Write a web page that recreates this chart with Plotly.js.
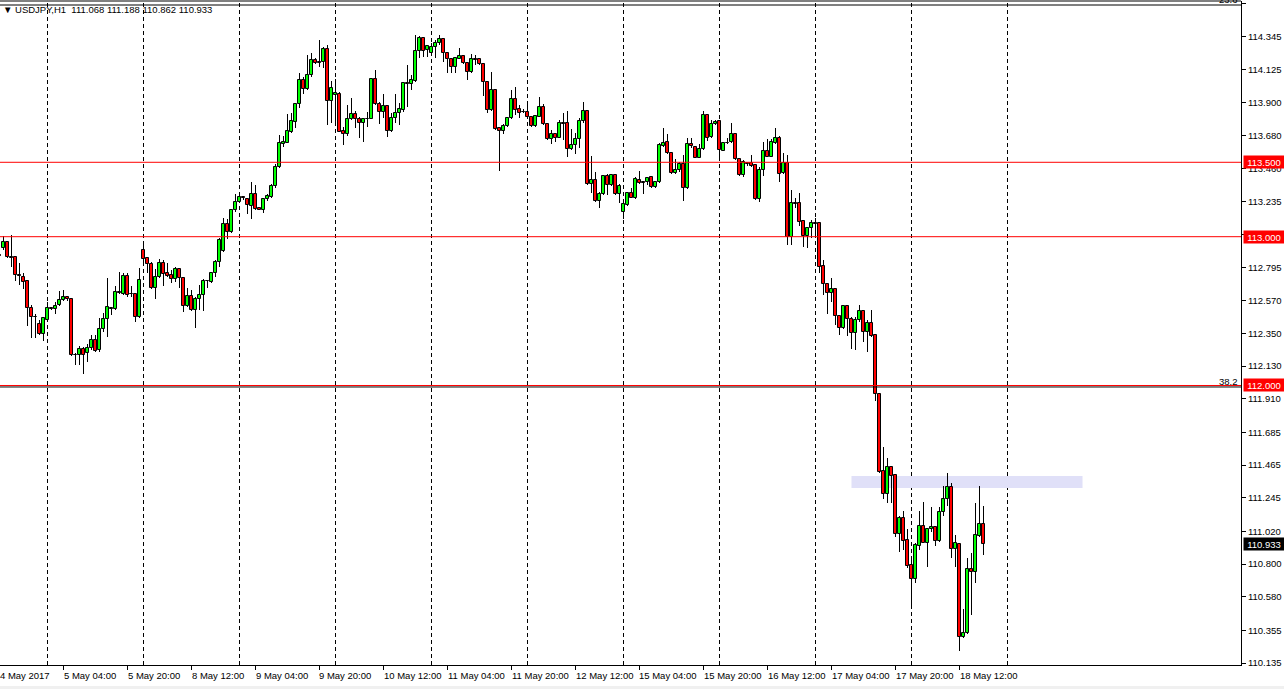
<!DOCTYPE html>
<html><head><meta charset="utf-8">
<script src="https://cdn.plot.ly/plotly-3.0.1.min.js"></script>
<style>html,body{margin:0;padding:0;background:#fff;overflow:hidden}#chart{width:1284px;height:689px}</style>
</head><body><div id="chart"></div>
<script>
const symbol = 'USDJPY,H1';
// hourly bars, first = 4 May 2017 12:00 (partly hidden), last = 18 May 18:00
const open = [112.880,
112.922,112.962,112.861,112.861,112.740,112.731,112.704,112.518,112.462,112.411,
112.344,112.440,112.518,112.512,112.541,112.572,112.592,112.579,112.205,112.205,
112.245,112.216,112.250,112.306,112.238,112.379,112.444,112.516,112.516,112.626,
112.615,112.736,112.615,112.615,112.462,112.910,112.854,112.816,112.653,112.727,
112.821,112.758,112.742,112.713,112.783,112.720,112.536,112.603,112.507,112.579,
112.606,112.702,112.698,112.754,112.827,112.906,113.085,113.029,113.177,113.231,
113.264,113.251,113.208,113.284,113.190,113.181,113.251,113.269,113.340,113.470,
113.623,113.632,113.706,113.773,113.889,114.053,113.993,114.087,114.187,114.172,
114.176,114.261,113.914,113.950,113.959,113.710,113.688,113.789,113.822,113.789,
113.762,113.789,113.789,114.060,113.892,113.836,113.878,113.712,113.795,113.829,
113.851,114.031,114.026,114.049,114.248,114.333,114.255,114.237,114.273,114.299,
114.326,114.232,114.194,114.143,114.196,114.214,114.169,114.109,114.192,114.192,
114.158,114.037,113.851,113.986,113.728,113.712,113.744,113.795,113.923,113.858,
113.840,113.840,113.802,113.744,113.807,113.869,113.755,113.656,113.690,113.665,
113.762,113.762,113.589,113.616,113.654,113.777,113.844,113.352,113.381,113.242,
113.284,113.410,113.347,113.414,113.284,113.163,113.213,113.296,113.258,113.381,
113.365,113.365,113.403,113.331,113.365,113.612,113.634,113.560,113.426,113.448,
113.488,113.325,113.620,113.600,113.531,113.589,113.818,113.667,113.757,113.777,
113.578,113.632,113.634,113.688,113.520,113.414,113.493,113.493,113.482,113.251,
113.448,113.576,113.538,113.632,113.661,113.426,113.497,112.995,113.224,113.224,
113.105,113.004,113.060,113.090,113.090,112.803,112.680,112.624,112.648,112.469,
112.384,112.534,112.449,112.355,112.438,112.500,112.361,112.422,112.339,111.940,
111.425,111.268,111.454,111.398,111.000,111.107,110.962,110.794,110.697,110.923,
111.056,110.944,111.033,111.047,110.957,111.147,111.235,111.320,110.899,110.935,
110.307,110.334,110.767,110.744,110.991,111.068];
const high = [112.922,
113.004,112.972,113.011,112.861,112.821,112.753,112.709,112.541,112.480,112.440,
112.460,112.563,112.530,112.563,112.637,112.642,112.600,112.583,112.216,112.265,
112.260,112.279,112.339,112.339,112.451,112.488,112.720,112.530,112.670,112.763,
112.758,112.758,112.668,112.624,112.787,112.971,112.865,112.832,112.780,112.848,
112.843,112.821,112.776,112.798,112.792,112.727,112.653,112.642,112.597,112.675,
112.713,112.709,112.765,112.843,112.989,113.123,113.116,113.184,113.287,113.287,
113.273,113.258,113.367,113.347,113.195,113.258,113.287,113.354,113.490,113.683,
113.677,113.824,113.829,113.896,114.102,114.075,114.221,114.232,114.199,114.322,
114.277,114.288,114.049,114.057,113.975,113.739,113.885,113.930,113.845,113.802,
113.795,113.840,114.064,114.120,113.907,113.957,113.885,113.829,113.957,113.901,
114.042,114.154,114.087,114.355,114.349,114.344,114.288,114.300,114.322,114.355,
114.333,114.237,114.199,114.210,114.266,114.221,114.176,114.228,114.221,114.199,
114.165,114.042,114.105,113.993,113.739,113.757,113.802,113.986,114.008,113.885,
113.856,113.896,113.811,113.818,113.941,113.892,113.762,113.717,113.695,113.784,
113.829,113.845,113.721,113.695,113.800,113.907,113.851,113.542,113.437,113.302,
113.414,113.421,113.421,113.419,113.352,113.253,113.302,113.325,113.403,113.441,
113.370,113.403,113.410,113.374,113.627,113.728,113.690,113.567,113.520,113.504,
113.549,113.665,113.661,113.605,113.620,113.844,113.822,113.784,113.784,113.782,
113.638,113.665,113.762,113.690,113.526,113.515,113.504,113.549,113.486,113.470,
113.634,113.654,113.656,113.728,113.676,113.564,113.549,113.314,113.262,113.291,
113.112,113.063,113.112,113.123,113.094,112.843,112.686,112.720,112.653,112.474,
112.541,112.541,112.458,112.462,112.541,112.507,112.440,112.507,112.346,111.947,
111.589,111.515,111.461,111.403,111.123,111.156,111.035,110.834,110.944,111.156,
111.219,111.040,111.186,111.051,111.186,111.324,111.414,111.342,110.995,110.939,
110.496,110.843,110.872,111.212,111.327,111.188];
const low = [112.825,
112.910,112.854,112.798,112.704,112.675,112.646,112.400,112.317,112.320,112.339,
112.301,112.440,112.505,112.480,112.536,112.565,112.570,112.198,112.138,112.138,
112.075,112.160,112.240,112.228,112.228,112.362,112.323,112.474,112.507,112.615,
112.608,112.597,112.594,112.429,112.451,112.832,112.758,112.646,112.580,112.720,
112.668,112.731,112.686,112.693,112.653,112.496,112.530,112.503,112.384,112.507,
112.500,112.653,112.686,112.731,112.798,112.899,112.987,113.022,113.168,113.224,
113.246,113.152,113.121,113.179,113.177,113.157,113.242,113.258,113.330,113.460,
113.605,113.632,113.695,113.733,113.867,113.957,113.986,114.075,114.160,114.138,
114.131,113.751,113.762,113.762,113.706,113.616,113.677,113.784,113.728,113.661,
113.639,113.739,113.789,113.885,113.757,113.795,113.672,113.706,113.762,113.751,
113.840,113.874,113.986,114.042,114.199,114.210,114.205,114.221,114.199,114.288,
114.176,114.102,114.098,114.102,114.192,114.158,114.053,114.102,114.152,114.152,
113.948,113.829,113.845,113.717,113.444,113.690,113.739,113.789,113.818,113.795,
113.829,113.795,113.739,113.735,113.802,113.751,113.650,113.623,113.639,113.661,
113.650,113.538,113.583,113.556,113.594,113.762,113.347,113.296,113.235,113.190,
113.280,113.280,113.343,113.280,113.224,113.119,113.208,113.258,113.253,113.352,
113.284,113.347,113.329,113.325,113.361,113.605,113.553,113.419,113.419,113.437,
113.242,113.318,113.594,113.526,113.526,113.582,113.643,113.661,113.750,113.520,
113.576,113.620,113.627,113.515,113.410,113.403,113.477,113.470,113.246,113.235,
113.408,113.533,113.533,113.623,113.370,113.419,112.944,112.944,113.190,113.072,
112.933,112.922,112.989,113.011,112.758,112.608,112.480,112.563,112.406,112.339,
112.377,112.332,112.243,112.238,112.429,112.294,112.223,112.328,111.898,111.414,
111.237,111.208,111.208,110.984,110.879,110.894,110.771,110.496,110.670,110.894,
110.939,110.782,111.018,110.923,110.950,111.125,111.192,110.843,110.782,110.218,
110.305,110.328,110.458,110.675,110.984,110.862];
const close = [112.870,
112.966,112.861,112.859,112.740,112.735,112.698,112.518,112.462,112.460,112.344,
112.451,112.518,112.516,112.536,112.574,112.592,112.579,112.205,112.203,112.245,
112.205,112.250,112.306,112.232,112.379,112.444,112.525,112.518,112.626,112.624,
112.736,112.608,112.613,112.462,112.709,112.848,112.814,112.653,112.727,112.821,
112.749,112.736,112.713,112.783,112.720,112.536,112.603,112.507,112.581,112.608,
112.702,112.700,112.754,112.827,112.978,113.085,113.029,113.177,113.231,113.264,
113.262,113.211,113.284,113.188,113.181,113.251,113.275,113.340,113.470,113.627,
113.639,113.710,113.777,113.889,114.053,113.993,114.087,114.187,114.169,114.170,
114.261,113.914,113.997,113.965,113.706,113.688,113.789,113.822,113.789,113.762,
113.789,113.788,114.060,113.892,113.836,113.878,113.712,113.795,113.829,113.858,
114.031,114.029,114.053,114.248,114.335,114.250,114.281,114.273,114.299,114.326,
114.232,114.194,114.143,114.199,114.214,114.165,114.109,114.192,114.190,114.158,
114.037,113.851,113.986,113.724,113.712,113.744,113.795,113.923,113.851,113.833,
113.838,113.802,113.744,113.811,113.869,113.755,113.656,113.690,113.665,113.762,
113.760,113.589,113.616,113.656,113.780,113.845,113.352,113.381,113.242,113.287,
113.410,113.347,113.414,113.284,113.343,113.217,113.291,113.258,113.385,113.358,
113.363,113.392,113.331,113.365,113.616,113.632,113.560,113.426,113.448,113.488,
113.325,113.620,113.612,113.531,113.589,113.818,113.661,113.757,113.773,113.582,
113.632,113.630,113.688,113.520,113.414,113.504,113.491,113.477,113.251,113.448,
113.576,113.538,113.634,113.661,113.419,113.497,112.995,113.224,113.222,113.101,
113.004,113.056,113.090,113.088,112.798,112.680,112.624,112.648,112.469,112.384,
112.534,112.449,112.355,112.438,112.500,112.361,112.422,112.335,111.940,111.421,
111.268,111.454,111.394,111.000,111.107,110.957,110.789,110.697,110.928,111.056,
110.944,111.035,111.047,110.957,111.147,111.237,111.320,110.899,110.939,110.307,
110.334,110.767,110.744,110.995,111.069,110.933];

// time axis: label every 16 bars, dashed separator at each new day
const labelBars = [-1,15,31,47,63,79,95,111,127,143,159,175,191,207,223,239];
const labelText = ['4 May 2017','5 May 04:00','5 May 20:00','8 May 12:00','9 May 04:00','9 May 20:00',
  '10 May 12:00','11 May 04:00','11 May 20:00','12 May 12:00','15 May 04:00','15 May 20:00',
  '16 May 12:00','17 May 04:00','17 May 20:00','18 May 12:00'];
const dayBars = [11,35,59,83,107,131,155,179,203,227,251];

// price axis
const yTickVals = [114.565,114.345,114.125,113.900,113.680,113.460,113.235,113.015,112.795,112.570,
  112.350,112.130,111.910,111.685,111.465,111.245,111.020,110.800,110.580,110.355,110.135];
const levels = [113.500, 113.000, 112.000];
const fibLevels = [{value: 111.990, name: '38.2'}, {value: 114.557, name: '23.6'}];
const zone = {from: 212, to: 269.75, low: 111.311, high: 111.392};

const bars = open.map((_, k) => k - 1);
const X0 = -0.875, X1 = 309.375;
const Y0 = 110.1216, Y1 = 114.5839;
const FONT = 'Liberation Sans, Arial, sans-serif';
const px2paperX = 1 / 1241, px2paperY = 1 / 664;

const bull = open.map((o, k) => close[k] >= o);
const wicks = {
  type: 'bar', x: bars, base: low, y: high.map((h, k) => h - low[k]), width: 0.25,
  marker: {color: '#000000', line: {width: 0}}, hoverinfo: 'none', showlegend: false
};
const bodies = {
  type: 'bar', x: bars, base: open.map((o, k) => Math.min(o, close[k])),
  y: open.map((o, k) => Math.abs(close[k] - o)), width: 0.75,
  marker: {color: bull.map(b => b ? '#00FF00' : '#FF0000'), line: {color: '#000000', width: 1}},
  hoverinfo: 'none', showlegend: false
};

const shapes = [];
dayBars.forEach(b => {
  shapes.push({type: 'line', xref: 'x', yref: 'paper', x0: b, x1: b, y0: 0, y1: 1,
    line: {color: '#000', width: 1, dash: '4px,3px'}, layer: 'below'});
  shapes.push({type: 'line', xref: 'x', yref: 'paper', x0: b, x1: b, y0: 0, y1: 4 * px2paperY,
    line: {color: '#000', width: 1}});
});
shapes.push({type: 'rect', xref: 'x', yref: 'y', x0: zone.from, x1: zone.to, y0: zone.low, y1: zone.high,
  fillcolor: 'rgb(224,224,248)', line: {width: 0}, layer: 'below'});
fibLevels.forEach(f => shapes.push({type: 'line', xref: 'paper', yref: 'y', x0: 0, x1: 1, y0: f.value, y1: f.value,
  line: {color: '#000', width: 1}}));
levels.forEach(v => shapes.push({type: 'line', xref: 'paper', yref: 'y', x0: 0, x1: 1, y0: v, y1: v,
  line: {color: '#FF0000', width: 1}}));
shapes.push({type: 'line', xref: 'paper', yref: 'paper', x0: 0, x1: 1, y0: 1, y1: 1, line: {color: '#000', width: 1}});
shapes.push({type: 'rect', xref: 'paper', yref: 'paper', x0: -0.01, x1: 1.05, y0: -21 * px2paperY, y1: -25 * px2paperY,
  fillcolor: '#F0F0F0', line: {width: 0}});

const annotations = [];
const last = open.length - 1;
annotations.push({xref: 'paper', yref: 'paper', x: 0, y: 1, xanchor: 'left', yanchor: 'top', xshift: 1, yshift: -1,
  showarrow: false, font: {family: FONT, size: 9.5, color: '#000'},
  text: '\u25BC ' + symbol + '  ' + [open[last], high[last], low[last], close[last]].map(v => v.toFixed(3)).join(' ')});
labelBars.forEach((b, k) => annotations.push({xref: 'paper', yref: 'paper', x: (b - X0) / (X1 - X0), y: 0,
  xanchor: 'left', yanchor: 'top', xshift: -2, yshift: -3, showarrow: false,
  font: {family: FONT, size: 9.5, color: '#000'}, text: labelText[k]}));
levels.forEach(v => annotations.push({xref: 'paper', yref: 'y', x: 1 + 2 * px2paperX, y: v, xanchor: 'left', yanchor: 'middle',
  showarrow: false, bgcolor: '#FF0000', width: 38, height: 10, borderpad: 1, align: 'center',
  font: {family: FONT, size: 9.5, color: '#FFFFFF'}, text: v.toFixed(3)}));
annotations.push({xref: 'paper', yref: 'y', x: 1 + 2 * px2paperX, y: close[last], xanchor: 'left', yanchor: 'middle',
  showarrow: false, bgcolor: '#000000', width: 38, height: 10, borderpad: 1, align: 'center',
  font: {family: FONT, size: 9.5, color: '#FFFFFF'}, text: close[last].toFixed(3)});
fibLevels.forEach(f => annotations.push({xref: 'paper', yref: 'y', x: 1, y: f.value, xanchor: 'right', yanchor: 'bottom',
  xshift: -1, yshift: -2, showarrow: false, font: {family: FONT, size: 9.5, color: '#000'}, text: f.name}));

const layout = {
  width: 1284, height: 689, margin: {l: 0, r: 43, t: 1, b: 24, pad: 0},
  paper_bgcolor: '#FFFFFF', plot_bgcolor: '#FFFFFF', showlegend: false,
  barmode: 'overlay', bargap: 0, bargroupgap: 0,
  xaxis: {type: 'linear', range: [X0, X1], showgrid: false, zeroline: false,
    showline: true, linecolor: '#000', linewidth: 1, tickmode: 'array', tickvals: labelBars,
    ticks: 'outside', ticklen: 4, tickcolor: '#000', showticklabels: false, fixedrange: true},
  yaxis: {side: 'right', range: [Y0, Y1], showgrid: false, zeroline: false, showline: true, linecolor: '#000',
    linewidth: 1, tickmode: 'array', tickvals: yTickVals, ticktext: yTickVals.map(v => v.toFixed(3)),
    ticks: 'outside', ticklen: 4, tickcolor: '#000', tickfont: {family: FONT, size: 9.5, color: '#000'}, fixedrange: true},
  shapes: shapes, annotations: annotations
};
Plotly.newPlot('chart', [wicks, bodies], layout, {displayModeBar: false});
</script></body></html>
